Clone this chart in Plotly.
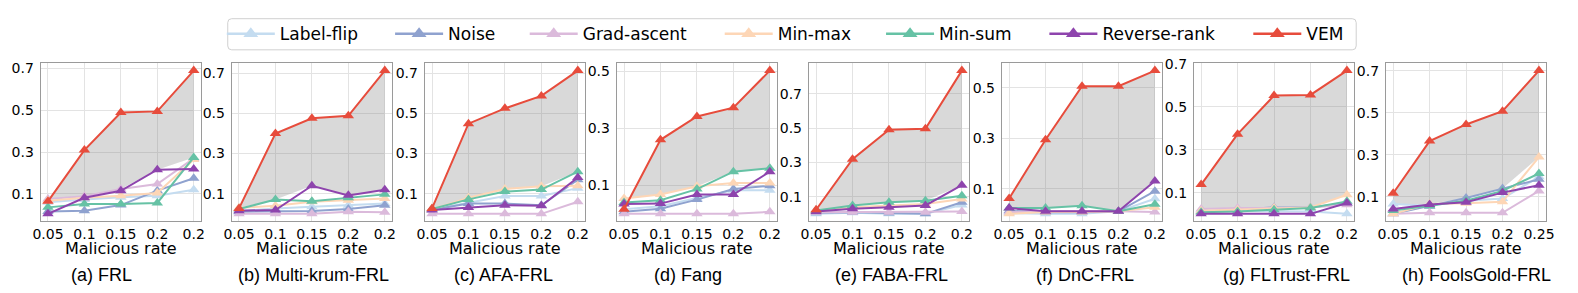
import numpy as np
import plotly.graph_objects as go

W, H = 1578, 293

series_names = ["Label-flip", "Noise", "Grad-ascent", "Min-max", "Min-sum", "Reverse-rank", "VEM"]
series_colors = ["#c4dcf0", "#8fa2cf", "#dbbadb", "#fdd6b6", "#66c2a5", "#8e44ad", "#e74c3c"]

x_labels = ["0.05", "0.1", "0.15", "0.2", "0.2"]
x_labels_h = ["0.05", "0.1", "0.15", "0.2", "0.25"]
y_ticks = [0.1, 0.3, 0.5, 0.7]

panel_titles = ["(a) FRL", "(b) Multi-krum-FRL", "(c) AFA-FRL", "(d) Fang",
                "(e) FABA-FRL", "(f) DnC-FRL", "(g) FLTrust-FRL", "(h) FoolsGold-FRL"]

# rows follow series_names order
frl = [
    [0.060, 0.074, 0.084, 0.092, 0.120],
    [0.016, 0.020, 0.047, 0.116, 0.175],
    [0.076, 0.089, 0.124, 0.148, 0.270],
    [0.068, 0.082, 0.092, 0.105, 0.265],
    [0.036, 0.052, 0.052, 0.057, 0.275],
    [0.005, 0.082, 0.115, 0.216, 0.220],
    [0.065, 0.310, 0.490, 0.495, 0.690],
]
multikrum = [
    [0.014, 0.027, 0.035, 0.043, 0.051],
    [0.011, 0.011, 0.014, 0.024, 0.043],
    [0.000, 0.000, 0.000, 0.011, 0.008],
    [0.030, 0.040, 0.060, 0.068, 0.076],
    [0.024, 0.071, 0.063, 0.080, 0.097],
    [0.016, 0.019, 0.140, 0.092, 0.120],
    [0.027, 0.400, 0.476, 0.488, 0.713],
]
afa = [
    [0.022, 0.056, 0.089, 0.089, 0.128],
    [0.020, 0.051, 0.051, 0.043, 0.170],
    [0.000, 0.000, 0.000, 0.000, 0.060],
    [0.022, 0.080, 0.124, 0.137, 0.140],
    [0.024, 0.072, 0.111, 0.121, 0.210],
    [0.019, 0.032, 0.043, 0.040, 0.181],
    [0.027, 0.449, 0.525, 0.587, 0.713],
]
fang = [
    [0.016, 0.027, 0.056, 0.083, 0.083],
    [0.007, 0.018, 0.050, 0.087, 0.099],
    [0.000, 0.000, 0.000, 0.000, 0.007],
    [0.054, 0.068, 0.097, 0.108, 0.108],
    [0.040, 0.048, 0.087, 0.148, 0.160],
    [0.035, 0.036, 0.068, 0.068, 0.148],
    [0.016, 0.260, 0.342, 0.373, 0.503],
]
faba = [
    [0.001, 0.007, 0.000, 0.001, 0.052],
    [0.007, 0.010, 0.005, 0.000, 0.068],
    [0.010, 0.010, 0.010, 0.010, 0.014],
    [0.014, 0.039, 0.049, 0.058, 0.087],
    [0.020, 0.049, 0.068, 0.077, 0.106],
    [0.014, 0.030, 0.039, 0.049, 0.167],
    [0.024, 0.319, 0.490, 0.496, 0.835],
]
dnc = [
    [0.003, 0.000, 0.000, 0.010, 0.060],
    [0.012, 0.006, 0.006, 0.010, 0.090],
    [0.007, 0.010, 0.010, 0.010, 0.007],
    [0.000, 0.007, 0.007, 0.010, 0.026],
    [0.023, 0.023, 0.032, 0.010, 0.038],
    [0.023, 0.010, 0.010, 0.010, 0.130],
    [0.061, 0.294, 0.506, 0.506, 0.568],
]
fltrust = [
    [0.017, 0.017, 0.017, 0.014, 0.003],
    [0.014, 0.022, 0.033, 0.033, 0.053],
    [0.025, 0.030, 0.030, 0.033, 0.045],
    [0.017, 0.022, 0.030, 0.033, 0.092],
    [0.011, 0.014, 0.022, 0.030, 0.061],
    [0.003, 0.003, 0.003, 0.003, 0.053],
    [0.139, 0.373, 0.552, 0.555, 0.668],
]
foolsgold = [
    [0.066, 0.058, 0.081, 0.092, 0.195],
    [0.019, 0.055, 0.094, 0.139, 0.183],
    [0.019, 0.024, 0.024, 0.024, 0.128],
    [0.019, 0.066, 0.070, 0.077, 0.289],
    [0.035, 0.058, 0.081, 0.128, 0.211],
    [0.042, 0.063, 0.074, 0.120, 0.155],
    [0.117, 0.365, 0.444, 0.507, 0.700],
]

panels = [frl, multikrum, afa, fang, faba, dnc, fltrust, foolsgold]
panel_xlabels = [x_labels] * 7 + [x_labels_h]

# layout (pixels)
plot_left = [33, 226, 421, 615, 809, 1004, 1198, 1392]
plot_w = 162
plot_top, plot_bottom = 57, 219
title_cx = [94, 309, 501, 687, 893, 1088, 1292, 1484]

fig = go.Figure()
grid_c = "#e3e3e3"
spine_c = "#9a9a9a"

for i, data in enumerate(panels):
    n = "" if i == 0 else str(i + 1)
    xa, ya = "x" + n, "y" + n
    idx = list(range(len(data[0])))
    arr = np.array(data)
    others_max = arr[:6].max(axis=0)
    fig.add_trace(go.Scatter(x=idx, y=others_max, mode="lines", line=dict(width=0, color="rgba(0,0,0,0)"),
                             showlegend=False, hoverinfo="skip", xaxis=xa, yaxis=ya))
    fig.add_trace(go.Scatter(x=idx, y=data[6], mode="lines", line=dict(width=0, color="rgba(0,0,0,0)"),
                             fill="tonexty", fillcolor="rgba(128,128,128,0.30)",
                             showlegend=False, hoverinfo="skip", xaxis=xa, yaxis=ya))
    for s, name in enumerate(series_names):
        fig.add_trace(go.Scatter(
            x=idx, y=data[s], mode="lines+markers", name=name,
            line=dict(color=series_colors[s], width=2),
            marker=dict(symbol="triangle-up", size=10, color=series_colors[s]),
            showlegend=False, xaxis=xa, yaxis=ya))

    lo, hi = arr.min(), arr.max()
    span = hi - lo
    x0 = plot_left[i] / W
    x1 = (plot_left[i] + plot_w) / W
    fig.update_layout(**{
        "xaxis" + n: dict(domain=[x0, x1], range=[-0.2, len(idx) - 1 + 0.2], anchor=ya,
                          tickvals=idx, ticktext=panel_xlabels[i], showgrid=True, gridcolor=grid_c,
                          showline=True, mirror=True, linecolor=spine_c, linewidth=1,
                          ticks="", zeroline=False,
                          tickfont=dict(family="DejaVu Sans", size=14, color="black")),
        "yaxis" + n: dict(domain=[1 - plot_bottom / H, 1 - plot_top / H],
                          range=[lo - 0.05 * span, hi + 0.05 * span], anchor=xa,
                          tickvals=y_ticks, ticktext=[str(v) for v in y_ticks],
                          showgrid=True, gridcolor=grid_c, zeroline=False,
                          showline=True, mirror=True, linecolor=spine_c, linewidth=1,
                          ticks="outside", ticklen=3, tickcolor="rgba(0,0,0,0)",
                          tickfont=dict(family="DejaVu Sans", size=14, color="black")),
    })
    fig.add_annotation(x=(plot_left[i] + plot_w / 2) / W, y=1 - 247 / H, xref="paper", yref="paper",
                       text="Malicious rate", showarrow=False, xanchor="center", yanchor="middle",
                       font=dict(family="DejaVu Sans", size=16, color="black"))
    fig.add_annotation(x=title_cx[i] / W, y=1 - 274 / H, xref="paper", yref="paper",
                       text=panel_titles[i], showarrow=False, xanchor="center", yanchor="middle",
                       font=dict(family="Liberation Sans", size=18, color="black"))

# legend entries (one legend per entry, placed like the reference)
legend_line_start = [221, 391, 527, 724, 887, 1052, 1258]
for s, name in enumerate(series_names):
    lg = "legend" if s == 0 else "legend" + str(s + 1)
    fig.add_trace(go.Scatter(x=[None], y=[None], mode="lines+markers", name=name,
                             line=dict(color=series_colors[s], width=2.5),
                             marker=dict(symbol="triangle-up", size=13, color=series_colors[s]),
                             legend=lg, showlegend=True, xaxis="x", yaxis="y"))
    fig.update_layout(**{lg: dict(x=(legend_line_start[s] - 5) / W, y=1 - 27 / H,
                                  xanchor="left", yanchor="middle", orientation="h",
                                  bgcolor="rgba(0,0,0,0)", borderwidth=0, itemwidth=48,
                                  font=dict(family="DejaVu Sans", size=17, color="black"))})

# legend frame
bx0, bx1, by0, by1, r = 222, 1362, 11, 43, 4
def px(x):
    return x / W
def py(y):
    return 1 - y / H
path = (f"M{px(bx0 + r)},{py(by0)} L{px(bx1 - r)},{py(by0)} Q{px(bx1)},{py(by0)} {px(bx1)},{py(by0 + r)} "
        f"L{px(bx1)},{py(by1 - r)} Q{px(bx1)},{py(by1)} {px(bx1 - r)},{py(by1)} "
        f"L{px(bx0 + r)},{py(by1)} Q{px(bx0)},{py(by1)} {px(bx0)},{py(by1 - r)} "
        f"L{px(bx0)},{py(by0 + r)} Q{px(bx0)},{py(by0)} {px(bx0 + r)},{py(by0)} Z")
fig.add_shape(type="path", path=path, xref="paper", yref="paper",
              line=dict(color="#d0d0d0", width=1), fillcolor="white", layer="below")

fig.update_layout(width=W, height=H, margin=dict(l=0, r=0, t=0, b=0),
                  paper_bgcolor="white", plot_bgcolor="white", showlegend=True)

fig.write_html("out.html", config={"displayModeBar": False},
               post_script="document.body.style.margin='0';document.body.style.overflow='hidden';")
